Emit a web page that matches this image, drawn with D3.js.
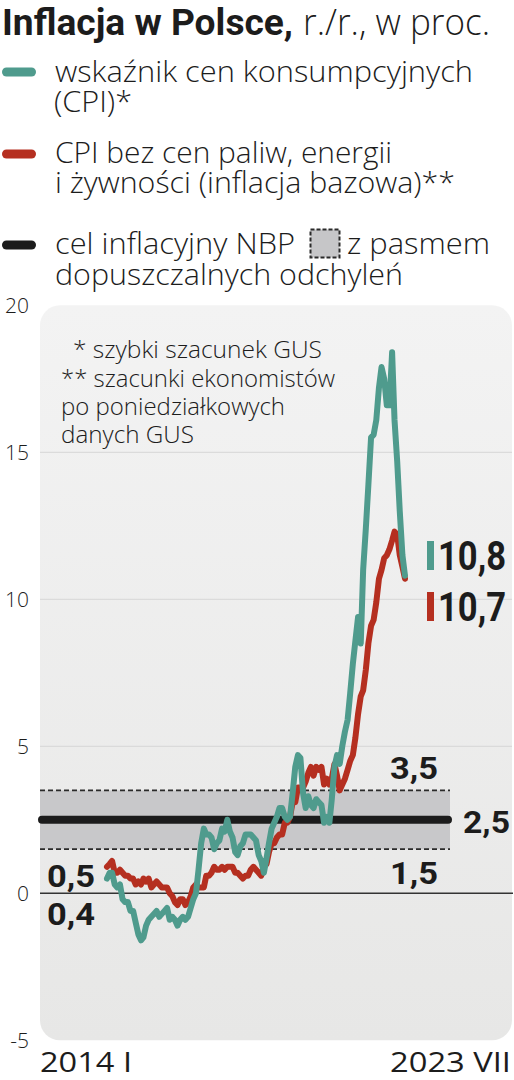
<!DOCTYPE html>
<html><head><meta charset="utf-8">
<script src="https://cdn.jsdelivr.net/npm/d3@7"></script>
<style>
html,body{margin:0;padding:0;background:#fff;}
svg{display:block;}
</style></head>
<body>
<svg id="chart" width="514" height="1080"></svg>
<script>
// ---------- DATA ----------
const startMonth = "2014-01";
const endMonth = "2023-07";
// CPI y/y, % (Jan 2014 .. Jul 2023)
const cpi = [
  0.5,0.7,0.7,0.3,0.2,0.3,-0.2,-0.3,-0.3,-0.6,-0.6,-1.0,
  -1.4,-1.6,-1.5,-1.1,-0.9,-0.8,-0.7,-0.6,-0.8,-0.7,-0.6,-0.5,
  -0.9,-0.8,-0.9,-1.1,-0.9,-0.8,-0.9,-0.8,-0.5,-0.2,0.0,0.8,
  1.7,2.2,2.0,2.0,1.9,1.5,1.7,1.8,2.2,2.1,2.5,2.1,
  1.9,1.4,1.3,1.6,1.7,2.0,2.0,2.0,1.9,1.8,1.3,1.1,
  0.7,1.2,1.7,2.2,2.4,2.6,2.9,2.9,2.6,2.5,2.6,3.4,
  4.3,4.7,4.6,3.4,2.9,3.3,3.0,2.9,3.2,3.1,3.0,2.4,
  2.6,2.4,3.2,4.3,4.7,4.4,5.0,5.5,5.9,6.8,7.8,8.6,
  9.4,8.5,11.0,12.4,13.9,15.5,15.6,16.1,17.2,17.9,17.5,16.6,
  16.6,18.4,16.1,14.7,13.0,11.5,10.8
];
// Core inflation (CPI excl. food and energy) y/y, %
const core = [
  0.9,1.0,1.1,0.7,0.7,0.8,0.7,0.6,0.6,0.5,0.5,0.3,
  0.4,0.3,0.5,0.4,0.5,0.2,0.3,0.4,0.3,0.2,0.2,0.2,
  0.0,-0.1,-0.3,-0.4,-0.2,-0.2,-0.4,-0.3,-0.1,0.2,0.3,0.2,
  0.2,0.2,0.6,0.6,0.7,0.9,0.8,0.8,0.9,0.8,0.9,0.9,
  0.9,0.7,0.7,0.6,0.5,0.6,0.6,0.8,0.9,0.8,0.7,0.6,
  0.9,1.0,1.4,1.7,1.7,1.9,2.0,2.0,2.4,2.4,2.6,3.1,
  3.1,3.6,3.6,3.6,3.8,4.1,4.3,4.0,4.3,4.2,4.3,3.7,
  3.9,3.7,3.9,4.4,4.0,3.5,3.7,3.9,4.2,4.5,4.7,5.3,
  6.1,6.7,6.9,7.6,8.5,9.1,9.3,9.9,10.7,11.0,11.4,11.5,
  11.7,12.0,12.3,12.2,11.5,11.1,10.7
];
const target = 2.5;
const bandLow = 1.5;
const bandHigh = 3.5;
const yTicks = [20, 15, 10, 5, 0, -5];
const yTickLabels = ["20", "15", "10", "5", "0", "-5"];
const gridValues = [15, 10, 5];
const xLabels = ["2014 I", "2023 VII"];
const startLabels = ["0,5", "0,4"];
const endLabels = ["10,8", "10,7"];
const bandLabels = ["3,5", "2,5", "1,5"];
const titleBold = "Inflacja w Polsce,";
const titleLight = "r./r., w proc.";
const legendCPI = ["wskaźnik cen konsumpcyjnych", "(CPI)*"];
const legendCore = ["CPI bez cen paliw, energii", "i żywności (inflacja bazowa)**"];
const legendTarget1 = "cel inflacyjny NBP";
const legendTarget2 = "z pasmem";
const legendTarget3 = "dopuszczalnych odchyleń";
const footnotes = ["* szybki szacunek GUS", "** szacunki ekonomistów", "po poniedziałkowych", "danych GUS"];

// ---------- STYLE ----------
const TEAL = "#4f9b8d", RED = "#b52f20", DARK = "#1c1c1c";
const LIGHT = "'Open Sans', Roboto, sans-serif";
const BOLD = "'Liberation Sans Narrow', 'Roboto', sans-serif";

const svg = d3.select("#chart");
const parse = d3.timeParse("%Y-%m");
const t0 = parse(startMonth), t1 = parse(endMonth);
const months = d3.timeMonth.range(t0, d3.timeMonth.offset(t1, 1));
const cpiData = months.map((d, i) => ({date: d, v: cpi[i]}));
const coreData = months.map((d, i) => ({date: d, v: core[i]}));

const x = d3.scaleTime().domain([t0, t1]).range([107, 405]);
const y = d3.scaleLinear().domain([-5, 20]).range([1040.3, 305.3]);
const plotL = 40, plotR = 512;

// helpers
function fit(sel, w) {
  sel.attr("textLength", w).attr("lengthAdjust", "spacingAndGlyphs");
  return sel;
}
function txt(parent, s, xx, yy, size, weight, family, w, anchor) {
  const t = parent.append("text").attr("x", xx).attr("y", yy)
    .attr("font-size", size).attr("font-weight", weight)
    .attr("font-family", family).attr("fill", DARK)
    .attr("text-anchor", anchor || "start").text(s);
  if (w) fit(t, w);
  return t;
}

// ---------- TITLE & LEGEND ----------
txt(svg, titleBold, 2, 35, 37, 700, BOLD, 291);
txt(svg, titleLight, 303, 35, 36, 300, LIGHT, 187);

const legend = svg.append("g");
[[72, TEAL], [154, RED], [245, DARK]].forEach(([yy, c]) => {
  legend.append("line").attr("x1", 6.5).attr("x2", 31.5).attr("y1", yy).attr("y2", yy)
    .attr("stroke", c).attr("stroke-width", 9).attr("stroke-linecap", "round");
});
const LS = 30;
txt(legend, legendCPI[0], 55, 82, LS, 300, LIGHT, 418);
txt(legend, legendCPI[1], 54, 112, LS, 300, LIGHT, 78);
txt(legend, legendCore[0], 55, 163, LS, 300, LIGHT, 337);
txt(legend, legendCore[1], 55, 193, LS, 300, LIGHT, 400);
txt(legend, legendTarget1, 55, 254, LS, 300, LIGHT, 240);
legend.append("rect").attr("x", 310.5).attr("y", 229.5).attr("width", 29).attr("height", 28)
  .attr("fill", "#c6c6c8").attr("stroke", "#2a2a2a").attr("stroke-width", 2)
  .attr("stroke-dasharray", "4,2");
txt(legend, legendTarget2, 347, 254, LS, 300, LIGHT, 143);
txt(legend, legendTarget3, 55, 285, LS, 300, LIGHT, 348);

// ---------- PLOT AREA ----------
const defs = svg.append("defs");
const grad = defs.append("linearGradient").attr("id", "bg").attr("x1", 0).attr("x2", 0).attr("y1", 0).attr("y2", 1);
grad.append("stop").attr("offset", "0%").attr("stop-color", "#f3f3f3");
grad.append("stop").attr("offset", "100%").attr("stop-color", "#e7e7e6");
svg.append("rect").attr("x", plotL).attr("y", y(20)).attr("width", plotR - plotL)
  .attr("height", y(-5) - y(20)).attr("rx", 20).attr("fill", "url(#bg)");

// gridlines
svg.append("g").selectAll("line").data(gridValues).join("line")
  .attr("x1", plotL).attr("x2", plotR).attr("y1", d => y(d)).attr("y2", d => y(d))
  .attr("stroke", "#d6d6d6").attr("stroke-width", 1);

// y axis labels
const yAxis = d3.axisLeft(y).tickValues(yTicks).tickFormat((d, i) => yTickLabels[i]).tickSize(0).tickPadding(0);
const ya = svg.append("g").attr("transform", "translate(29,0)").call(yAxis);
ya.select(".domain").remove();
ya.selectAll("text").attr("font-family", LIGHT).attr("font-weight", 300)
  .attr("font-size", 21).attr("fill", DARK).attr("dy", "0.36em");

// band
const bandR = 450;
svg.append("rect").attr("x", plotL).attr("y", y(bandHigh)).attr("width", bandR - plotL)
  .attr("height", y(bandLow) - y(bandHigh)).attr("fill", "#c8c8ca");
[bandHigh, bandLow].forEach(v => {
  svg.append("line").attr("x1", plotL).attr("x2", bandR).attr("y1", y(v)).attr("y2", y(v))
    .attr("stroke", "#2a2a2a").attr("stroke-width", 1.8).attr("stroke-dasharray", "5,3");
});
svg.append("line").attr("x1", plotL + 2).attr("x2", bandR - 2).attr("y1", y(target)).attr("y2", y(target))
  .attr("stroke", DARK).attr("stroke-width", 8).attr("stroke-linecap", "round");

// zero line
svg.append("line").attr("x1", plotL).attr("x2", 513).attr("y1", y(0)).attr("y2", y(0))
  .attr("stroke", "#333").attr("stroke-width", 1.6);

// footnotes
const fx = [73, 61, 61, 61], fw = [249, 274, 224, 133], fy = [358, 387, 415, 443];
footnotes.forEach((s, i) => txt(svg, s, fx[i], fy[i], 23, 300, LIGHT, fw[i]));

// lines
const line = d3.line().x(d => x(d.date)).y(d => y(d.v)).curve(d3.curveLinear);
svg.append("path").datum(coreData).attr("d", line).attr("fill", "none")
  .attr("stroke", RED).attr("stroke-width", 6).attr("stroke-linejoin", "round").attr("stroke-linecap", "round");
svg.append("path").datum(cpiData).attr("d", line).attr("fill", "none")
  .attr("stroke", TEAL).attr("stroke-width", 6).attr("stroke-linejoin", "round").attr("stroke-linecap", "round");

// band labels
txt(svg, bandLabels[0], 390, 779, 31, 700, BOLD, 48);
txt(svg, bandLabels[1], 463, 833, 31, 700, BOLD, 47);
txt(svg, bandLabels[2], 390, 884, 31, 700, BOLD, 48);
// start labels
txt(svg, startLabels[0], 47, 887, 31, 700, BOLD, 48);
txt(svg, startLabels[1], 47, 925, 31, 700, BOLD, 48);
// end labels
svg.append("rect").attr("x", 427).attr("y", 541).attr("width", 7).attr("height", 29).attr("fill", TEAL);
svg.append("rect").attr("x", 427).attr("y", 592).attr("width", 7).attr("height", 29).attr("fill", RED);
txt(svg, endLabels[0], 438, 570, 40, 700, BOLD, 68);
txt(svg, endLabels[1], 438, 621, 40, 700, BOLD, 68);

// x labels
txt(svg, xLabels[0], 40, 1072, 28, 400, LIGHT, 92);
txt(svg, xLabels[1], 511, 1072, 28, 400, LIGHT, 121, "end");
</script>
</body></html>
